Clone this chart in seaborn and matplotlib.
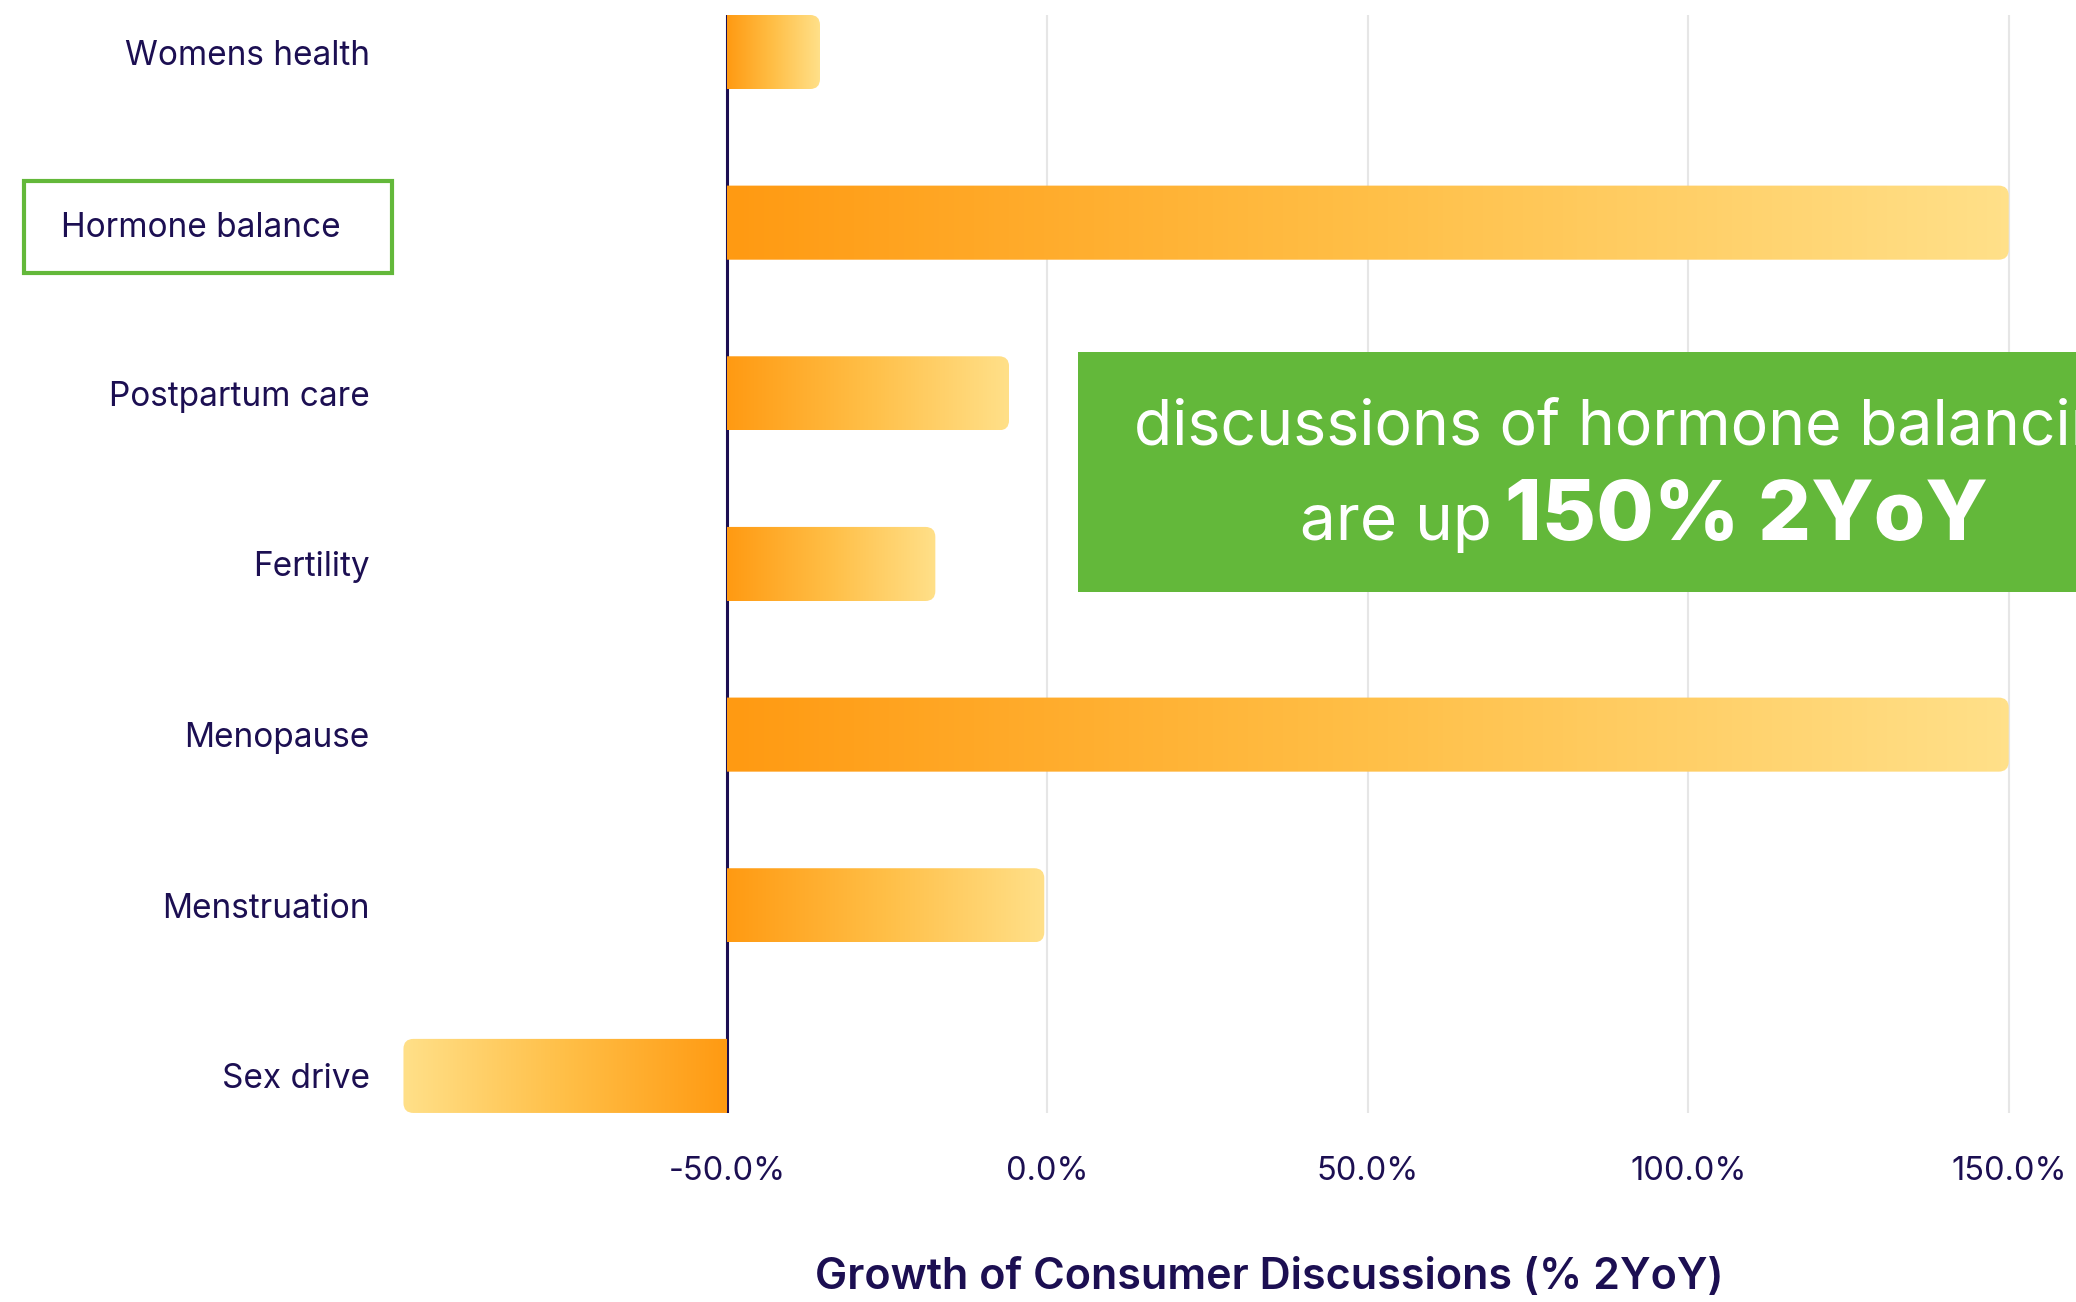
import numpy as np
import pandas as pd
import matplotlib.pyplot as plt
import seaborn as sns
from matplotlib.colors import LinearSegmentedColormap
from matplotlib.patches import FancyBboxPatch, Rectangle

# chart values (% growth, 2YoY)
topics = ['Womens health', 'Hormone balance', 'Postpartum care', 'Fertility',
          'Menopause', 'Menstruation', 'Sex drive']
growth_2yoy = [-35.5, 150, -6, -17.5, 150, -0.5, -100.5]
axis_base = -50
x_ticks = [-50, 0, 50, 100, 150]
x_tick_labels = ['-50.0%', '0.0%', '50.0%', '100.0%', '150.0%']
highlight = 'Hormone balance'
callout_line1 = 'discussions of hormone balancing'
callout_lead = 'are up'
callout_figure = '150% 2YoY'

NAVY = '#1C0F52'
GREEN = '#63B83A'
grad = LinearSegmentedColormap.from_list('bar', ['#FF9A12', '#FFBF47', '#FFE089'])

sns.set_theme(style='white')
plt.rcParams['font.family'] = ['Inter', 'DejaVu Sans']

fig = plt.figure(figsize=(20.76, 13.02), dpi=100)
ax = fig.add_axes([0.1928, 0.1452, 0.8072, 0.8433])

df = pd.DataFrame({'topic': topics, 'growth': growth_2yoy})
sns.barplot(data=df, x='growth', y='topic', orient='h', width=0.434, ax=ax)

# swap the flat bars for gradient ones starting at the -50% axis
ramp = np.linspace(0, 1, 256).reshape(1, -1)
for bar in list(ax.patches):
    y0, h = bar.get_y(), bar.get_height()
    v = bar.get_x() + bar.get_width()
    bar.set_visible(False)
    img = ax.imshow(ramp, cmap=grad, extent=[axis_base, v, y0 + h, y0],
                    aspect='auto', interpolation='bicubic', zorder=2)
    if v >= axis_base:
        x0, w = axis_base - 4, v - axis_base + 4
    else:
        x0, w = v, axis_base + 4 - v
    clip = FancyBboxPatch((x0, y0), w, h, boxstyle='round,pad=0,rounding_size=1.56',
                          mutation_aspect=0.0376, transform=ax.transData,
                          fc='none', ec='none')
    img.set_clip_path(clip)

ax.set_xlim(-101, 160.5)
ax.set_ylim(6.217, -0.217)

ax.set_xticks(x_ticks, x_tick_labels)
ax.set_yticks(range(len(topics)), ['' if t == highlight else t for t in topics])
ax.tick_params(axis='y', length=0, pad=22, labelsize=24, labelcolor=NAVY)
ax.tick_params(axis='x', length=0, pad=31, labelsize=23.5, labelcolor=NAVY)
ax.grid(axis='x', color='#E6E6E6', lw=1.5)
ax.grid(axis='y', visible=False)
ax.set_axisbelow(True)
ax.axvline(axis_base, color=NAVY, lw=2.2, zorder=1.8)
for s in ax.spines.values():
    s.set_visible(False)
ax.set_ylabel('')
ax.set_xlabel('Growth of Consumer Discussions (% 2YoY)', fontsize=31,
              fontweight='semibold', color=NAVY, va='center')
ax.xaxis.set_label_coords(0.5185, -0.150)

# highlighted category label with green outline
fig.add_artist(Rectangle((24 / 2076, 1 - 273 / 1302), 368 / 2076, 92 / 1302,
                         transform=fig.transFigure, fill=False, ec=GREEN, lw=3))
fig.text(201 / 2076, 1 - 228 / 1302, highlight, ha='center', va='center',
         fontsize=24, color=NAVY)

# green callout (runs off the right edge, as in the source graphic)
fig.add_artist(Rectangle((1078 / 2076, 1 - 592 / 1302), 1.0, 240 / 1302,
                         transform=fig.transFigure, fc=GREEN, ec='none', zorder=5))
fig.text(1640 / 2076, 1 - 444 / 1302, callout_line1, ha='center', va='baseline',
         fontsize=45, color='white', zorder=6)
fig.text(1492 / 2076, 1 - 540 / 1302, callout_lead, ha='right', va='baseline',
         fontsize=46, color='white', zorder=6)
fig.text(1505 / 2076, 1 - 540 / 1302, callout_figure, ha='left', va='baseline',
         fontsize=60, fontweight='heavy', color='white', zorder=6)

fig.savefig('out.png', dpi=100, facecolor='white')
